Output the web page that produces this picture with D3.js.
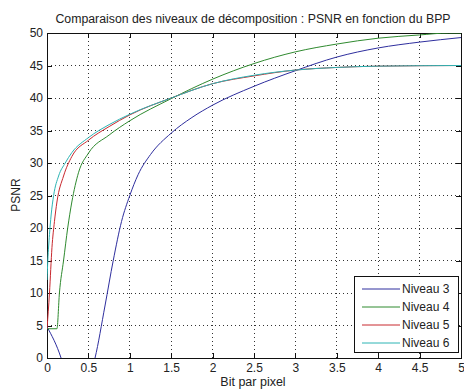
<!DOCTYPE html>
<html>
<head>
<meta charset="utf-8">
<script src="https://cdn.jsdelivr.net/npm/d3@7"></script>
<style>
  body { margin: 0; background: #fff; }
  text { font-family: "Liberation Sans", Arial, sans-serif; fill: #222; }
</style>
</head>
<body>
<div class="svgcontainer"></div>
<script>
// values (bpp, psnr)
const niveau3 = [[0, 4.8], [0.17, 0], [0.3, -6], [0.45, -5], [0.58, 0], [0.7, 8], [0.8, 15], [0.9, 21], [1, 25], [1.1, 28.2], [1.25, 31.3], [1.5, 34.6], [1.75, 37], [2, 38.9], [2.5, 41.8], [3, 44.2], [3.5, 46.3], [4, 47.7], [4.5, 48.6], [5, 49.3]]
const niveau4 = [[0, 4.5], [0.12, 4.5], [0.15, 10], [0.2, 15], [0.25, 20], [0.3, 24], [0.38, 28.5], [0.5, 31.5], [0.75, 34.3], [1, 36.5], [1.5, 39.9], [2, 42.9], [2.5, 45.3], [3, 47.1], [3.5, 48.3], [4, 49.2], [4.5, 49.7], [4.85, 50], [5, 50]]
const niveau5 = [[0, 4.5], [0.03, 10], [0.06, 17], [0.09, 21], [0.12, 24], [0.2, 28], [0.3, 31], [0.5, 33.5], [0.75, 35.6], [1, 37.4], [1.5, 40], [2, 42.2], [2.5, 43.4], [3, 44.3], [3.5, 44.7], [4, 44.9], [5, 45]]
const niveau6 = [[0, 12], [0.01, 15], [0.03, 19], [0.05, 22], [0.08, 25], [0.14, 28], [0.22, 30], [0.3, 31.6], [0.5, 33.9], [0.75, 35.9], [1, 37.5], [1.5, 40], [2, 42.2], [2.5, 43.5], [3, 44.3], [3.5, 44.7], [4, 44.9], [5, 45]]

const seriesNames = ["Niveau 3", "Niveau 4", "Niveau 5", "Niveau 6"]
const seriesColors = ["#2e2e9e", "#2f8a2f", "#c8282e", "#2cb4b4"]
const xTicks = [0, 0.5, 1, 1.5, 2, 2.5, 3, 3.5, 4, 4.5, 5]
const yTicks = [0, 5, 10, 15, 20, 25, 30, 35, 40, 45, 50]

const width = 464, height = 392
const plotLeft = 47, plotRight = 461, plotTop = 33, plotBottom = 358

let svg = d3.select(".svgcontainer")
  .append("svg")
  .attr("width", width)
  .attr("height", height)

let x = d3.scaleLinear().domain([0, 5]).range([plotLeft, plotRight])
let y = d3.scaleLinear().domain([0, 50]).range([plotBottom, plotTop])

svg.append("clipPath").attr("id", "plotclip")
  .append("rect")
  .attr("x", plotLeft).attr("y", plotTop)
  .attr("width", plotRight - plotLeft).attr("height", plotBottom - plotTop)

// dotted grid
let grid = svg.append("g")
grid.selectAll(".gx").data(xTicks.slice(1, -1)).join("line")
  .attr("class", "gx")
  .attr("x1", d => x(d)).attr("x2", d => x(d))
  .attr("y1", plotTop).attr("y2", plotBottom)
grid.selectAll(".gy").data(yTicks.slice(1, -1)).join("line")
  .attr("class", "gy")
  .attr("x1", plotLeft).attr("x2", plotRight)
  .attr("y1", d => y(d)).attr("y2", d => y(d))
grid.selectAll("line")
  .attr("stroke", "#333")
  .attr("stroke-width", 1)
  .attr("stroke-dasharray", "1,3")
  .attr("shape-rendering", "crispEdges")

// axes with inward ticks on all four sides
let fmt = d => String(d)
svg.append("g").attr("transform", `translate(0,${plotBottom})`)
  .call(d3.axisBottom(x).tickValues(xTicks).tickFormat(fmt).tickSizeInner(-5).tickSizeOuter(0).tickPadding(5))
svg.append("g").attr("transform", `translate(0,${plotTop})`)
  .call(d3.axisTop(x).tickValues(xTicks).tickFormat("").tickSizeInner(-5).tickSizeOuter(0))
svg.append("g").attr("transform", `translate(${plotLeft},0)`)
  .call(d3.axisLeft(y).tickValues(yTicks).tickFormat(fmt).tickSizeInner(-5).tickSizeOuter(0).tickPadding(4))
svg.append("g").attr("transform", `translate(${plotRight},0)`)
  .call(d3.axisRight(y).tickValues(yTicks).tickFormat("").tickSizeInner(-5).tickSizeOuter(0))

svg.selectAll(".domain, .tick line")
  .attr("stroke", "#111")
  .attr("shape-rendering", "crispEdges")
svg.selectAll(".tick text")
  .attr("font-size", 12)
  .attr("fill", "#222")
  .attr("font-family", "Liberation Sans, Arial, sans-serif")

// curves
let line = d3.line().x(d => x(d[0])).y(d => y(d[1])).curve(d3.curveMonotoneX)
let allSeries = [niveau3, niveau4, niveau5, niveau6]
svg.append("g").attr("clip-path", "url(#plotclip)")
  .selectAll("path").data(allSeries).join("path")
  .attr("d", d => line(d))
  .attr("fill", "none")
  .attr("stroke", (d, i) => seriesColors[i])
  .attr("stroke-width", 1)

// titles
svg.append("text")
  .attr("x", 253).attr("y", 23)
  .attr("text-anchor", "middle").attr("font-size", 12.3)
  .text("Comparaison des niveaux de décomposition : PSNR en fonction du BPP")
svg.append("text")
  .attr("x", 253).attr("y", 386)
  .attr("text-anchor", "middle").attr("font-size", 12.5)
  .text("Bit par pixel")
svg.append("text")
  .attr("transform", "translate(20,195) rotate(-90)")
  .attr("text-anchor", "middle").attr("font-size", 12)
  .text("PSNR")

// legend
let lg = svg.append("g")
lg.append("rect")
  .attr("x", 354).attr("y", 276).attr("width", 104).attr("height", 76)
  .attr("fill", "#fff").attr("stroke", "#111")
  .attr("shape-rendering", "crispEdges")
let rows = lg.selectAll(".row").data(seriesNames).join("g")
  .attr("transform", (d, i) => `translate(0,${289 + i * 18})`)
rows.append("line")
  .attr("x1", 362).attr("x2", 400)
  .attr("stroke", (d, i) => seriesColors[i])
rows.append("text")
  .attr("x", 402).attr("dy", "0.35em").attr("font-size", 12)
  .text(d => d)
</script>
</body>
</html>
